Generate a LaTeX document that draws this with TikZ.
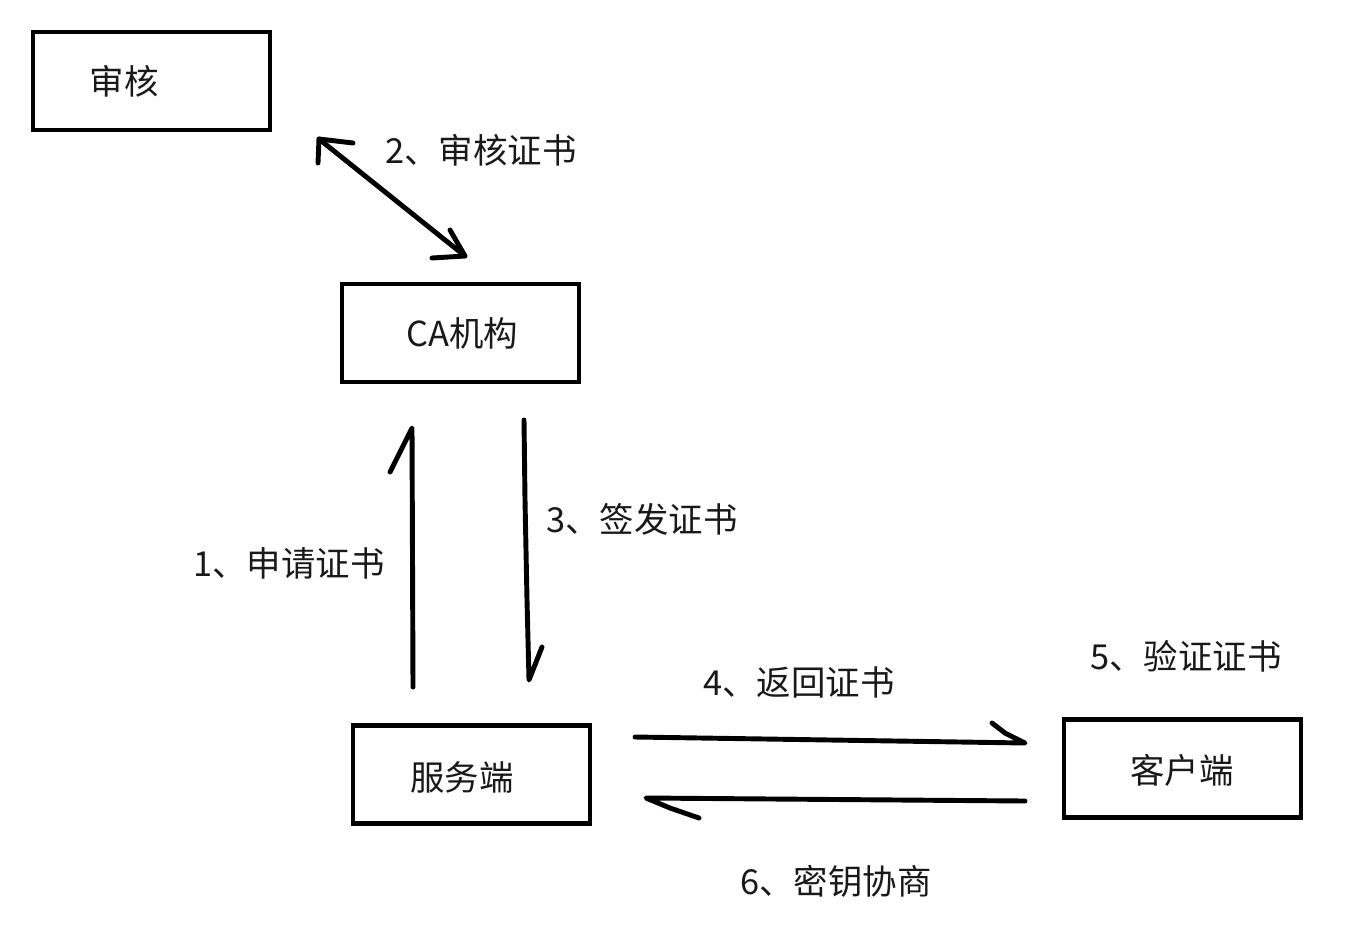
\documentclass[tikz,border=0pt]{standalone}
\usepackage{fontspec}
\setmainfont{Noto Sans CJK SC}
\begin{document}
\begin{tikzpicture}[x=0.02cm,y=-0.02cm,
  box/.style={draw=black,line width=2.4pt,minimum width=4.74cm,minimum height=1.96cm,inner sep=0pt,outer sep=0pt},
  txt/.style={font=\fontsize{19.6}{23}\selectfont,text=black!90,inner sep=0pt},
  conn/.style={line width=2.8pt,line cap=round,line join=round}]
\useasboundingbox (0,0) rectangle (1364,926);
% boxes
\node[box] (shenhe) at (151.5,81) {};
\node[txt] (shenheT) at (124,81) {审核};
\node[box] (ca) at (460.5,333) {};
\node[txt] (caT) at (462,333) {CA机构};
\node[box] (server) at (471.5,774.5) {};
\node[txt] (serverT) at (462,777) {服务端};
\node[box] (client) at (1182.5,768.5) {};
\node[txt] (clientT) at (1182,770) {客户端};
% connector end points
\coordinate (a2s) at (319,139);
\coordinate (a2e) at (465,256);
\coordinate (a1s) at (413,687);
\coordinate (a1e) at (412,428);
\coordinate (a3s) at (524,420);
\coordinate (a3e) at (529,680);
\coordinate (a4s) at (635,737);
\coordinate (a4e) at (1025,743);
\coordinate (a6s) at (1025,801);
\coordinate (a6e) at (646,798);
% 2: double arrow
\draw[conn] (a2s) -- (a2e);
\draw[conn] (353,143) -- (a2s) -- (318,163);
\draw[conn] (432,258) -- (a2e) -- (450,230);
% 1: up
\draw[conn] (a1s) -- (a1e) -- (390,472);
% 3: down
\draw[conn] (a3s) -- (525,500) -- (527,600) -- (a3e) -- (542,647);
% 4: right
\draw[conn] (a4s) -- (a4e) -- (1005,733) -- (992,723);
% 6: left
\draw[conn] (a6s) -- (a6e) -- (670,808) -- (699,818);
% labels
\node[txt] (l2) at (481,150) {2、审核证书};
\node[txt] (l3) at (642,519) {3、签发证书};
\node[txt] (l1) at (289,563) {1、申请证书};
\node[txt] (l4) at (799,682) {4、返回证书};
\node[txt] (l5) at (1186,656) {5、验证证书};
\node[txt] (l6) at (836,881) {6、密钥协商};
\end{tikzpicture}
\end{document}
